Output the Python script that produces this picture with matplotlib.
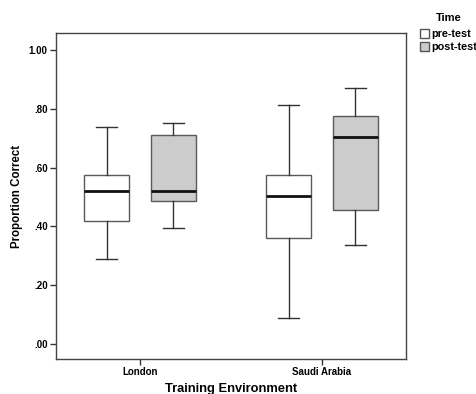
import matplotlib
matplotlib.use("Agg")
import matplotlib.pyplot as plt
from matplotlib.patches import Patch

plt.rcParams['font.family'] = ['Liberation Sans', 'DejaVu Sans']

categories = ["London", "Saudi Arabia"]
series = ["pre-test", "post-test"]
# [whislo, q1, med, q3, whishi]
pre_stats = [[0.288, 0.419, 0.520, 0.574, 0.739],
             [0.087, 0.359, 0.502, 0.574, 0.812]]
post_stats = [[0.396, 0.486, 0.520, 0.710, 0.752],
              [0.336, 0.455, 0.704, 0.776, 0.871]]
yticks = [0.0, 0.2, 0.4, 0.6, 0.8, 1.0]
ytick_labels = [".00", ".20", ".40", ".60", ".80", "1.00"]
colors = ["#ffffff", "#cccccc"]

fig = plt.figure(figsize=(4.76, 3.94), dpi=100)
ax = fig.add_axes([56/476, 1-359/394, 350/476, 326/394])

def mk(s):
    return dict(whislo=s[0], q1=s[1], med=s[2], q3=s[3], whishi=s[4], fliers=[])

offset = 0.184
width = 0.247
for k, (stats, col) in enumerate(zip([pre_stats, post_stats], colors)):
    pos = [i + (-offset if k == 0 else offset) for i in range(len(categories))]
    ax.bxp([mk(s) for s in stats], positions=pos, widths=width, patch_artist=True,
           showfliers=False,
           boxprops=dict(facecolor=col, edgecolor="#5a5a5a", linewidth=1.0),
           whiskerprops=dict(color="#333333", linewidth=1.0),
           capprops=dict(color="#333333", linewidth=1.0),
           medianprops=dict(color="#111111", linewidth=2.0),
           capwidths=width*0.47)

ax.set_xlim(-0.4615, 1.4615)
ax.set_ylim(-0.051, 1.058)
ax.set_yticks(yticks)
ax.set_yticklabels(ytick_labels, fontsize=7, fontweight="bold")
ax.set_xticks(range(len(categories)))
ax.set_xticklabels(categories, fontsize=7, fontweight="bold")
ax.tick_params(axis="both", length=4, width=1, color="#333333", pad=2)
for sp in ax.spines.values():
    sp.set_color("#444444")
    sp.set_linewidth(1.0)
fig.text(17/476, 1-196/394, "Proportion Correct", rotation=90, fontsize=8.3,
         fontweight="bold", ha="center", va="center")
fig.text(231/476, 1-392/394, "Training Environment", fontsize=9.3,
         fontweight="bold", ha="center", va="baseline")

fig.text(449/476, 1-18/394, "Time", fontsize=8, fontweight="bold",
         ha="center", va="center")
handles = [Patch(facecolor=c, edgecolor="#555555", label=s) for c, s in zip(colors, series)]
leg = fig.legend(handles=handles, loc="upper left",
                 bbox_to_anchor=(420/476, 1-29/394), frameon=False,
                 prop=dict(size=7.8, weight="bold"), handlelength=0.85, handleheight=0.95,
                 handletextpad=0.15, labelspacing=0.2, borderaxespad=0, borderpad=0)

fig.savefig("out.png", dpi=100)
